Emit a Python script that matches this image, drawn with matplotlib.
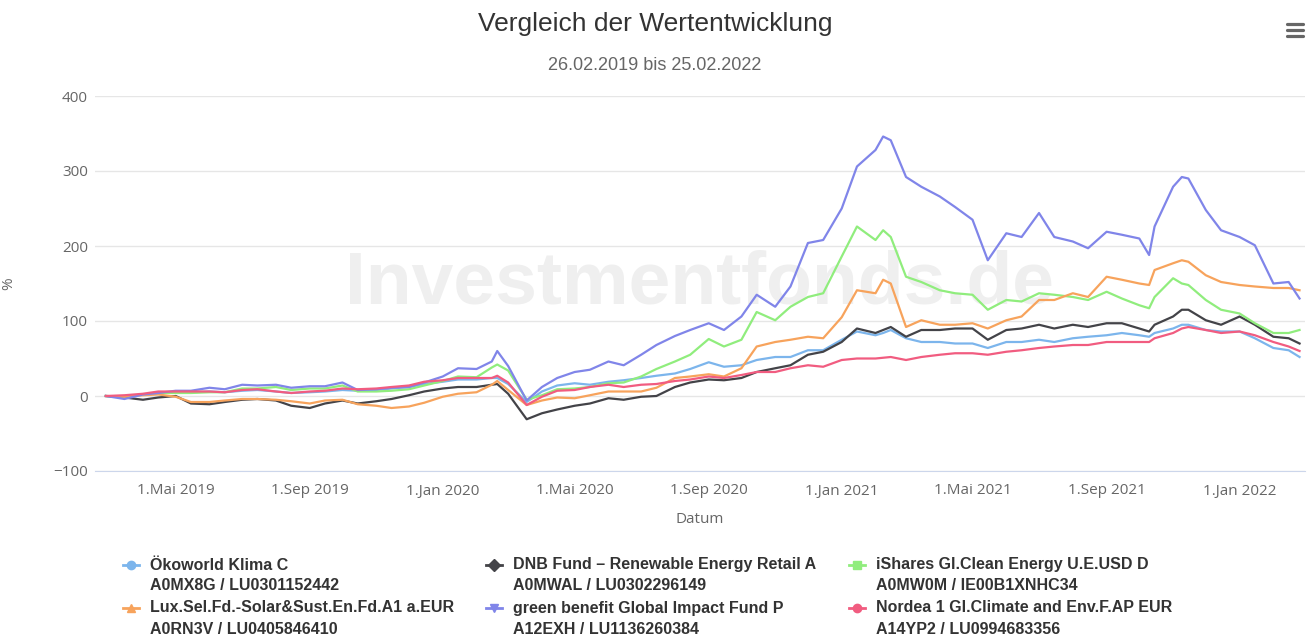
import pandas as pd
import matplotlib
matplotlib.use("Agg")
import matplotlib.pyplot as plt
from matplotlib.lines import Line2D

# Data (percent change since 26.02.2019)
dates = pd.to_datetime([
    "2019-02-26", "2019-03-15", "2019-04-01", "2019-04-15", "2019-05-01", "2019-05-15",
    "2019-06-01", "2019-06-15", "2019-07-01", "2019-07-15", "2019-08-01", "2019-08-15",
    "2019-09-01", "2019-09-15", "2019-10-01", "2019-10-15", "2019-11-01", "2019-11-15",
    "2019-12-01", "2019-12-15",
    "2020-01-01", "2020-01-15", "2020-02-01", "2020-02-15", "2020-02-20", "2020-03-01",
    "2020-03-18", "2020-04-01", "2020-04-15", "2020-05-01", "2020-05-15", "2020-06-01",
    "2020-06-15", "2020-07-01", "2020-07-15", "2020-08-01", "2020-08-15", "2020-09-01",
    "2020-09-15", "2020-10-01", "2020-10-15", "2020-11-01", "2020-11-15", "2020-12-01",
    "2020-12-15", "2021-01-01", "2021-01-15", "2021-02-01", "2021-02-08", "2021-02-15",
    "2021-03-01", "2021-03-15", "2021-04-01", "2021-04-15", "2021-05-01", "2021-05-15",
    "2021-06-01", "2021-06-15", "2021-07-01", "2021-07-15", "2021-08-01", "2021-08-15",
    "2021-09-01", "2021-09-15", "2021-10-01", "2021-10-10", "2021-10-15", "2021-11-01",
    "2021-11-09", "2021-11-15", "2021-12-01", "2021-12-15", "2022-01-01", "2022-01-15",
    "2022-02-01", "2022-02-15", "2022-02-25",
])

oekoworld = [0, -1, 2, 4, 5, 5, 6, 5, 7, 8, 6, 4, 5, 6, 8, 7, 8, 10, 12, 16,
             19, 22, 22, 24, 24, 16, -8, 6, 14, 17, 15, 19, 21, 24, 27, 30, 36, 45,
             39, 41, 48, 52, 52, 61, 61, 75, 86, 81, 84, 88, 77, 72, 72, 70, 70, 64,
             72, 72, 75, 72, 77, 79, 81, 84, 81, 79, 84, 90, 95, 95, 88, 86, 86, 77, 64, 61, 52]
dnb = [0, -2, -5, -2, 0, -10, -11, -8, -5, -4, -6, -13, -16, -10, -6, -10, -7, -4, 1, 6,
       10, 12, 12, 15, 16, 3, -31, -23, -18, -13, -10, -3, -5, -1, 0, 12, 18, 22,
       21, 24, 32, 37, 41, 55, 59, 72, 90, 84, 88, 92, 79, 88, 88, 90, 90, 75,
       88, 90, 95, 90, 95, 92, 97, 97, 90, 86, 95, 106, 115, 115, 101, 95, 106, 95, 79, 77, 70]
ishares = [0, -1, 2, 4, 4, 4, 5, 5, 10, 10, 12, 8, 10, 10, 14, 6, 6, 7, 9, 14,
           20, 26, 25, 38, 42, 34, -5, 1, 9, 10, 12, 17, 18, 26, 36, 46, 55, 76,
           66, 75, 112, 101, 119, 132, 137, 186, 226, 208, 221, 212, 159, 152, 141, 137, 135, 115,
           128, 126, 137, 135, 132, 128, 139, 130, 121, 117, 132, 157, 150, 148, 128, 115, 110, 97, 84, 84, 88]
lux_solar = [0, -1, 1, 2, -1, -8, -8, -6, -4, -4, -5, -7, -10, -6, -5, -11, -13, -16, -14, -9,
             -1, 3, 5, 15, 20, 8, -12, -6, -2, -3, 1, 6, 6, 6, 11, 24, 26, 29,
             26, 37, 66, 72, 75, 79, 77, 105, 141, 137, 155, 150, 92, 101, 95, 95, 97, 90,
             101, 106, 128, 128, 137, 132, 159, 155, 150, 148, 168, 177, 181, 179, 161, 152, 148, 146, 144, 144, 141]
green_benefit = [0, -4, 2, 4, 7, 7, 11, 9, 15, 14, 15, 11, 13, 13, 18, 8, 9, 11, 12, 18,
                 26, 37, 36, 46, 60, 40, -6, 12, 24, 32, 35, 46, 41, 55, 68, 80, 88, 97,
                 88, 106, 135, 119, 146, 204, 208, 250, 306, 328, 346, 341, 292, 279, 266, 252, 235, 181,
                 217, 212, 244, 212, 206, 197, 219, 215, 210, 188, 226, 279, 292, 290, 248, 221, 212, 201, 150, 152, 130]
nordea = [0, 1, 3, 6, 6, 6, 6, 5, 8, 9, 6, 4, 6, 7, 10, 9, 10, 12, 14, 19,
          21, 24, 24, 24, 27, 18, -12, -1, 7, 8, 12, 15, 12, 15, 16, 20, 22, 26,
          24, 28, 32, 32, 37, 41, 39, 48, 50, 50, 51, 52, 48, 52, 55, 57, 57, 55,
          59, 61, 64, 66, 68, 68, 72, 72, 72, 72, 77, 84, 90, 92, 88, 84, 86, 81, 72, 66, 60]

names = ["Ökoworld Klima C", "DNB Fund – Renewable Energy Retail A", "iShares Gl.Clean Energy U.E.USD D",
         "Lux.Sel.Fd.-Solar&Sust.En.Fd.A1 a.EUR", "green benefit Global Impact Fund P",
         "Nordea 1 Gl.Climate and Env.F.AP EUR"]
codes = ["A0MX8G / LU0301152442", "A0MWAL / LU0302296149", "A0MW0M / IE00B1XNHC34",
         "A0RN3V / LU0405846410", "A12EXH / LU1136260384", "A14YP2 / LU0994683356"]
series = [oekoworld, dnb, ishares, lux_solar, green_benefit, nordea]
colors = ["#7cb5ec", "#434348", "#90ed7d", "#f7a35c", "#8085e9", "#f15c80"]
markers = ["o", "D", "s", "^", "v", "o"]

tick_dates = pd.to_datetime(["2019-05-01", "2019-09-01", "2020-01-01", "2020-05-01", "2020-09-01",
                             "2021-01-01", "2021-05-01", "2021-09-01", "2022-01-01"])
tick_labels = ["1.Mai 2019", "1.Sep 2019", "1.Jan 2020", "1.Mai 2020", "1.Sep 2020",
               "1.Jan 2021", "1.Mai 2021", "1.Sep 2021", "1.Jan 2022"]

W, H = 1311, 638
arial = ["Liberation Sans", "DejaVu Sans"]
plt.rcParams["font.family"] = ["Open Sans", "DejaVu Sans"]

fig = plt.figure(figsize=(W / 100, H / 100), dpi=100)
ax = fig.add_axes([95 / W, 1 - 471 / H, 1210 / W, 375 / H])

for vals, c in zip(series, colors):
    ax.plot(dates, vals, color=c, lw=1.6, zorder=3)

ax.set_ylim(-100, 400)
ax.set_yticks([-100, 0, 100, 200, 300, 400])
ax.set_yticklabels(["−100", "0", "100", "200", "300", "400"])
ax.set_xlim(pd.Timestamp("2019-02-16"), pd.Timestamp("2022-03-02"))
ax.set_xticks(tick_dates)
ax.set_xticklabels(tick_labels)
ax.grid(axis="y", color="#e6e6e6", lw=1, zorder=0)
for s in ["top", "right", "left"]:
    ax.spines[s].set_visible(False)
ax.spines["bottom"].set_color("#ccd6eb")
ax.tick_params(axis="both", length=0, colors="#666666", labelsize=11)
ax.tick_params(axis="y", pad=5)
ax.tick_params(axis="x", pad=9)
ax.set_xlabel("Datum", color="#666666", fontsize=11, labelpad=10)
ax.set_ylabel("%", color="#666666", fontsize=11)
ax.yaxis.set_label_coords(-(95 - 16) / 1210, 0.5)

ax.text(0.5, 0.5, "Investmentfonds.de", transform=ax.transAxes, ha="center", va="center",
        fontsize=54, fontweight="bold", color="#efefef", family="Liberation Sans", zorder=1)

fig.text(655 / W, 1 - 24 / H, "Vergleich der Wertentwicklung", ha="center", va="center",
         fontsize=19, color="#333333", family=arial)
fig.text(655 / W, 1 - 66 / H, "26.02.2019 bis 25.02.2022", ha="center", va="center",
         fontsize=13, color="#666666", family=arial)

# menu icon
for yy in [24, 30, 36]:
    fig.add_artist(Line2D([1287 / W, 1303 / W], [1 - yy / H] * 2, color="#666666", lw=2.3,
                          solid_capstyle="round"))

# legend
col_x = [131, 494, 857]
row_y = [565, 608]
for i, (name, code, c, m) in enumerate(zip(names, codes, colors, markers)):
    x, y = col_x[i % 3], row_y[i // 3]
    fig.add_artist(Line2D([(x - 8) / W, (x + 8) / W], [1 - y / H] * 2, color=c, lw=2))
    fig.add_artist(Line2D([x / W], [1 - y / H], color=c, marker=m, markersize=6, lw=0))
    fig.text((x + 19) / W, 1 - y / H, name, ha="left", va="center", fontsize=11.5,
             fontweight="bold", color="#333333", family=arial)
    fig.text((x + 19) / W, 1 - (y + 21) / H, code, ha="left", va="center", fontsize=11.5,
             fontweight="bold", color="#333333", family=arial)

fig.savefig("out.png", dpi=100)
